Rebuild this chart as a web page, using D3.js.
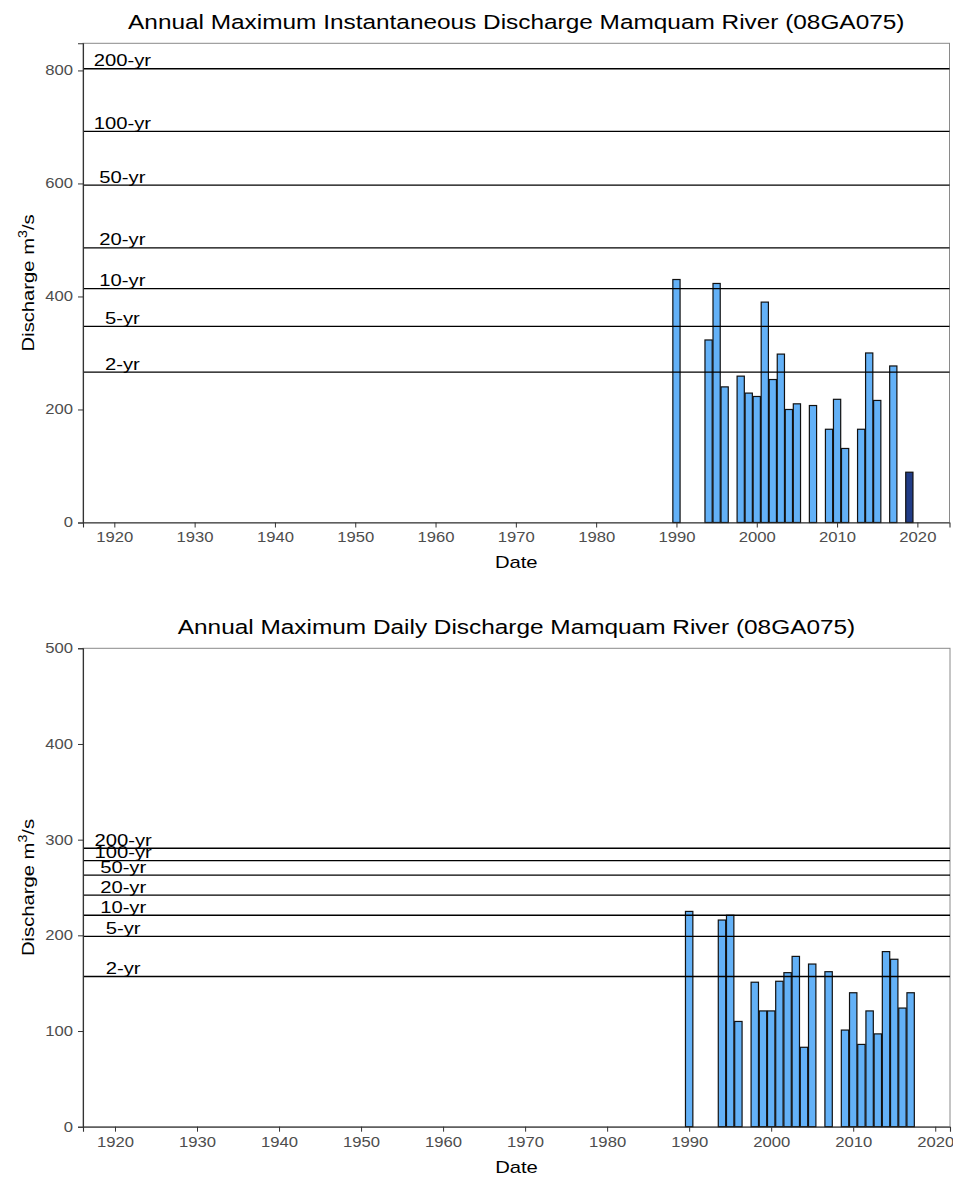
<!DOCTYPE html>
<html>
<head>
<meta charset="utf-8">
<script src="https://cdn.jsdelivr.net/npm/d3@7"></script>
<style>
  body { margin: 0; background: #fff; }
  svg { display: block; font-family: "Liberation Sans", Arial, sans-serif; }
</style>
</head>
<body>
<svg id="chart" width="953" height="1177"></svg>
<script>
// annual max instantaneous discharge (m3/s)
const instYears = [1990, 1994, 1995, 1996, 1998, 1999, 2000, 2001, 2002, 2003, 2004, 2005, 2007, 2009, 2010, 2011, 2013, 2014, 2015, 2017, 2019];
const instPeaks = [430, 323, 423, 240, 259, 229, 223, 390, 253, 298, 200, 210, 207, 165, 218, 131, 165, 300, 216, 277, 89];
const instProvisional = [2019];

// annual max daily discharge (m3/s)
const dailyYears = [1990, 1994, 1995, 1996, 1998, 1999, 2000, 2001, 2002, 2003, 2004, 2005, 2007, 2009, 2010, 2011, 2012, 2013, 2014, 2015, 2016, 2017];
const dailyPeaks = [225, 216, 221, 110, 151, 121, 121, 152, 161, 178, 83, 170, 162, 101, 140, 86, 121, 97, 183, 175, 124, 140];

// return period flood estimates
const returnLabels = ["2-yr", "5-yr", "10-yr", "20-yr", "50-yr", "100-yr", "200-yr"];
const instReturn = [266, 347, 414, 486, 597, 692, 803];
const dailyReturn = [157, 199, 221, 242, 263, 278, 291];
const labelYear = 1921;

const xTicks = [1920, 1930, 1940, 1950, 1960, 1970, 1980, 1990, 2000, 2010, 2020];

const svg = d3.select("#chart");

// the source image is a bit wider than plain Arial, stretch text horizontally
const stretchX = 1.19;
function stretch(sel) {
    sel.each(function() {
        const t = d3.select(this);
        const ax = +(t.attr("x") || 0);
        const prev = t.attr("transform") || "";
        t.attr("transform", `${prev} translate(${ax},0) scale(${stretchX},1) translate(${-ax},0)`);
    });
}

function drawPanel(opts) {
    const {title, years, peaks, provisional, levels, yDomain, yTicks, xDomain, box} = opts;
    const width = box.right - box.left,
        height = box.bottom - box.top;

    const g = svg.append("g")
        .attr("transform", `translate(${box.left},${box.top})`);

    const x = d3.scaleLinear().domain(xDomain).range([0, width]);
    const y = d3.scaleLinear().domain(yDomain).range([height, 0]);

    // panel border
    g.append("rect")
        .attr("width", width)
        .attr("height", height)
        .attr("fill", "none")
        .attr("stroke", "#8a8a8a")
        .attr("stroke-width", 1);

    // bars
    const data = years.map((yr, i) => ({yr, v: peaks[i]}));
    const bw = 0.9;
    g.selectAll("rect.bar")
        .data(data)
        .join("rect")
        .attr("class", "bar")
        .attr("x", d => x(d.yr - bw / 2))
        .attr("width", d => x(d.yr + bw / 2) - x(d.yr - bw / 2))
        .attr("y", d => y(d.v))
        .attr("height", d => y(0) - y(d.v))
        .attr("fill", d => provisional.includes(d.yr) ? "#213c86" : "#63b1f7")
        .attr("stroke", "#111")
        .attr("stroke-width", 1.2);

    // return period lines
    g.selectAll("line.rp")
        .data(levels)
        .join("line")
        .attr("class", "rp")
        .attr("x1", 0)
        .attr("x2", width)
        .attr("y1", d => y(d))
        .attr("y2", d => y(d))
        .attr("stroke", "#000")
        .attr("stroke-width", 1.3);

    const rpText = g.selectAll("text.rp")
        .data(levels)
        .join("text")
        .attr("class", "rp")
        .attr("x", x(labelYear))
        .attr("y", d => y(d) - 2.5)
        .attr("text-anchor", "middle")
        .attr("font-size", 17)
        .attr("fill", "#000")
        .text((d, i) => returnLabels[i]);
    stretch(rpText);

    // axes
    const xAxis = g.append("g")
        .attr("transform", `translate(0,${height})`)
        .call(d3.axisBottom(x).tickValues(xTicks).tickFormat(d3.format("d")).tickSizeOuter(0).tickSize(5).tickPadding(5));
    const yAxis = g.append("g")
        .call(d3.axisLeft(y).tickValues(yTicks).tickSizeOuter(0).tickSize(5).tickPadding(5));

    [xAxis, yAxis].forEach(ax => {
        ax.select(".domain").attr("stroke", "#333").attr("stroke-width", 1.1);
        ax.selectAll(".tick line").attr("stroke", "#333");
        ax.selectAll(".tick text")
            .attr("fill", "#4d4d4d")
            .attr("font-size", 14)
            .attr("font-family", "Liberation Sans, Arial, sans-serif")
            .call(stretch);
    });

    // title
    svg.append("text")
        .attr("x", box.left + width / 2)
        .attr("y", box.top - 14.5)
        .attr("text-anchor", "middle")
        .attr("font-size", 20.5)
        .attr("fill", "#000")
        .text(title)
        .call(stretch);

    // axis labels
    g.append("text")
        .attr("x", width / 2)
        .attr("y", height + 46)
        .attr("text-anchor", "middle")
        .attr("font-size", 17)
        .text("Date")
        .call(stretch);

    const yl = g.append("text")
        .attr("transform", `translate(${-49},${height / 2}) rotate(-90)`)
        .attr("text-anchor", "middle")
        .attr("font-size", 17);
    yl.append("tspan").text("Discharge m");
    yl.append("tspan").attr("dy", -7).attr("font-size", 12).text("3");
    yl.append("tspan").attr("dy", 7).text("/s");
    stretch(yl);
}

drawPanel({
    title: "Annual Maximum Instantaneous Discharge Mamquam River (08GA075)",
    years: instYears,
    peaks: instPeaks,
    provisional: instProvisional,
    levels: instReturn,
    yDomain: [0, 848],
    yTicks: [0, 200, 400, 600, 800],
    xDomain: [1916.1, 2024.0],
    box: {left: 83, right: 949.5, top: 43.3, bottom: 522.5}
});

drawPanel({
    title: "Annual Maximum Daily Discharge Mamquam River (08GA075)",
    years: dailyYears,
    peaks: dailyPeaks,
    provisional: [],
    levels: dailyReturn,
    yDomain: [0, 500],
    yTicks: [0, 100, 200, 300, 400, 500],
    xDomain: [1916.1, 2021.8],
    box: {left: 83, right: 950, top: 648.3, bottom: 1126.7}
});
</script>
</body>
</html>
